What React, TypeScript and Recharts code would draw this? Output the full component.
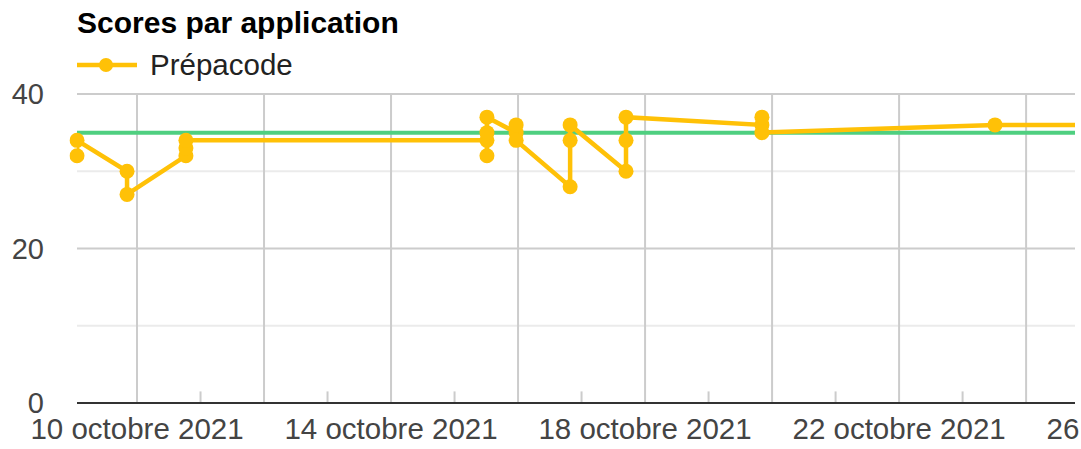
import { Legend, Line, LineChart, ReferenceLine, XAxis, YAxis } from 'recharts'

// instants en jours d'octobre 2021 (9.5 = 9 octobre à midi)
const instants = [
  9.055, 9.055, 9.843, 9.843, 10.77, 10.77, 10.77, 15.51, 15.51, 15.51, 15.51, 15.97, 15.97,
  15.97, 16.82, 16.82, 16.82, 17.7, 17.7, 17.7, 19.84, 19.84, 19.84, 23.51, 25.3,
]
const prepacode = [
  32, 34, 30, 27, 32, 33, 34, 34, 32, 35, 37, 35, 36, 34, 28, 34, 36, 30, 34, 37, 36, 37, 35, 36,
  36,
]
const seuil = 35

const domaineJours: [number, number] = [9.055, 24.77]
const joursLabels = [10, 14, 18, 22, 26]
const joursGrille = [10, 12, 14, 16, 18, 20, 22, 24]
const joursMineurs = [11, 13, 15, 17, 19, 21, 23]
const yTicks = [0, 20, 40]
const yGrilleMajeure = [20, 40]
const yGrilleMineure = [10, 30]

const data = instants.map((t, i) => ({ t, score: prepacode[i] }))

const FONT = 'Arial, "Liberation Sans", sans-serif'
const ORANGE = '#ffc107'
const VERT = '#4fcf80'

function LegendContent() {
  return (
    <div style={{ display: 'flex', alignItems: 'center', height: 40, fontFamily: FONT }}>
      <svg width={60} height={16}>
        <line x1={0} y1={8} x2={60} y2={8} stroke={ORANGE} strokeWidth={4.5} />
        <circle cx={29} cy={8} r={7} fill={ORANGE} />
      </svg>
      <span style={{ marginLeft: 13, fontSize: 29.5, color: '#222' }}>Prépacode</span>
    </div>
  )
}

export default function App() {
  return (
    <div style={{ position: 'absolute', left: 0, top: 0, width: 1081, height: 449 }}>
      <div
        style={{
          position: 'absolute',
          left: 77,
          top: 6,
          fontFamily: FONT,
          fontSize: 30,
          fontWeight: 'bold',
          color: '#000',
          zIndex: 2,
        }}
      >
        Scores par application
      </div>
      <LineChart
        width={1081}
        height={449}
        data={data}
        margin={{ top: 54, right: 6, bottom: 0, left: 0 }}
      >
        <XAxis
          dataKey="t"
          type="number"
          domain={domaineJours}
          allowDataOverflow
          ticks={joursLabels}
          interval={0}
          tickFormatter={(v: number) => `${v} octobre 2021`}
          tickLine={false}
          tickSize={0}
          tickMargin={15}
          height={46}
          axisLine={{ stroke: '#333', strokeWidth: 2 }}
          tick={{ fill: '#444', fontSize: 29.5, fontFamily: FONT }}
        />
        <YAxis
          type="number"
          domain={[0, 40]}
          ticks={yTicks}
          width={77}
          axisLine={false}
          tickLine={false}
          tickMargin={27}
          tick={{ fill: '#444', fontSize: 29, fontFamily: FONT }}
        />
        <Legend
          verticalAlign="top"
          align="left"
          content={<LegendContent />}
          wrapperStyle={{ top: 45, left: 77 }}
        />
        {yGrilleMineure.map((v) => (
          <ReferenceLine key={`ym${v}`} y={v} stroke="#ebebeb" strokeWidth={2} />
        ))}
        {yGrilleMajeure.map((v) => (
          <ReferenceLine key={`yM${v}`} y={v} stroke="#cccccc" strokeWidth={2} />
        ))}
        {joursGrille.map((d) => (
          <ReferenceLine key={`x${d}`} x={d} stroke="#cccccc" strokeWidth={2} />
        ))}
        {joursMineurs.map((d) => (
          <ReferenceLine
            key={`xm${d}`}
            segment={[
              { x: d, y: 0 },
              { x: d, y: 1.5 },
            ]}
            stroke="#cccccc"
            strokeWidth={2}
          />
        ))}
        <ReferenceLine y={seuil} stroke={VERT} strokeWidth={4} />
        <Line
          type="linear"
          dataKey="score"
          name="Prépacode"
          stroke={ORANGE}
          strokeWidth={4.5}
          dot={{ r: 7.5, fill: ORANGE, stroke: ORANGE, strokeWidth: 0, clipDot: false }}
          activeDot={false}
          isAnimationActive={false}
        />
      </LineChart>
    </div>
  )
}
